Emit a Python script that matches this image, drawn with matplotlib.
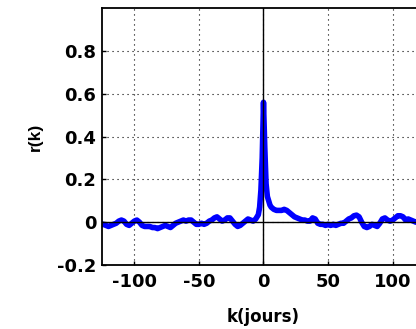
import numpy as np
import matplotlib.pyplot as plt

# lag in days and correlation r(k)
k_days = [-126, -124, -122, -120, -118, -116, -114, -112, -110, -108, -106, -104,
          -102, -100, -98, -96, -94, -92, -90, -88, -86, -84, -82, -80, -78, -76,
          -74, -72, -70, -68, -66, -64, -62, -60, -58, -56, -54, -52, -50, -48,
          -46, -44, -42, -40, -38, -36, -34, -32, -30, -28, -26, -24, -22, -20,
          -18, -16, -14, -12, -10, -8, -6, -5, -4, -3, -2, -1, 0, 1, 2, 3, 4, 5,
          6, 8, 10, 12, 14, 16, 18, 20, 22, 24, 26, 28, 30, 32, 34, 36, 38, 40,
          42, 44, 46, 48, 50, 52, 54, 56, 58, 60, 62, 64, 66, 68, 70, 72, 74, 76,
          78, 80, 82, 84, 86, 88, 90, 92, 94, 96, 98, 100, 102, 104, 106, 108,
          110, 112, 114, 116, 118, 120, 122, 124, 126]
r_k = [-0.01, -0.01, -0.015, -0.02, -0.015, -0.01, -0.005, 0.005, 0.01, 0.005,
       -0.01, -0.015, -0.005, 0.005, 0.01, 0.0, -0.015, -0.02, -0.02, -0.02,
       -0.025, -0.025, -0.03, -0.025, -0.02, -0.015, -0.02, -0.025, -0.015,
       -0.005, 0.0, 0.005, 0.01, 0.005, 0.01, 0.01, 0.0, -0.01, -0.01, -0.005,
       -0.01, -0.005, 0.005, 0.01, 0.02, 0.025, 0.015, 0.005, 0.01, 0.02, 0.02,
       0.005, -0.01, -0.02, -0.015, -0.005, 0.005, 0.015, 0.01, 0.005, 0.015,
       0.025, 0.035, 0.07, 0.15, 0.3, 0.56, 0.35, 0.18, 0.12, 0.1, 0.08, 0.07,
       0.06, 0.055, 0.055, 0.055, 0.06, 0.055, 0.045, 0.035, 0.025, 0.02, 0.015,
       0.01, 0.01, 0.005, 0.005, 0.02, 0.015, -0.005, -0.01, -0.01, -0.015,
       -0.01, -0.015, -0.01, -0.015, -0.01, -0.005, -0.005, 0.005, 0.015, 0.02,
       0.03, 0.033, 0.025, 0.0, -0.02, -0.025, -0.02, -0.01, -0.015, -0.02,
       -0.005, 0.015, 0.02, 0.01, 0.005, 0.01, 0.02, 0.03, 0.03, 0.025, 0.01,
       0.015, 0.01, 0.005, 0.0, 0.005, 0.0, -0.005, 0.0]

x_ticks = [-100, -50, 0, 50, 100]
y_ticks = [-0.2, 0, 0.2, 0.4, 0.6, 0.8]
y_tick_labels = ['-0.2', '0', '0.2', '0.4', '0.6', '0.8']

plt.rcParams['font.family'] = ['DejaVu Sans']
plt.rcParams['font.weight'] = 'bold'
plt.rcParams['axes.unicode_minus'] = False

fig = plt.figure(figsize=(4.16, 3.29), dpi=100)
ax = fig.add_axes([0.2452, 0.1945, 0.7764, 0.781])

ax.plot(k_days, r_k, color='#0000ff', lw=4, solid_joinstyle='round', zorder=2)
ax.axhline(0, color='black', lw=1.0, zorder=3)
ax.axvline(0, color='black', lw=1.0, zorder=3)

ax.set_xlim(-125, 125)
ax.set_ylim(-0.2, 1.0)
ax.set_xticks(x_ticks)
ax.set_xticklabels([str(t) for t in x_ticks])
ax.set_yticks(y_ticks)
ax.set_yticklabels(y_tick_labels)
ax.tick_params(direction='in', length=3, width=1, labelsize=13)
ax.tick_params(axis='x', pad=6)
ax.tick_params(axis='y', pad=4)
ax.grid(True, color='black', linestyle=(0, (1, 3.5)), lw=0.8)

for s in ax.spines.values():
    s.set_linewidth(1.3)

ax.set_xlabel('k(jours)', fontsize=12, fontweight='bold', labelpad=12)
ax.set_ylabel('r(k)', fontsize=12.5, fontweight='bold', family='Liberation Sans',
              labelpad=10)

fig.savefig('out.png', dpi=100)
